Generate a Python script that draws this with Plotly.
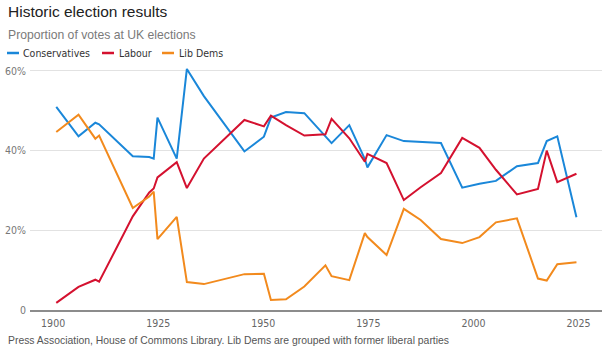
import plotly.graph_objects as go

# General election dates and vote shares (%)
election_dates = [
    "1900-10-01", "1906-01-15", "1910-01-15", "1910-12-10", "1918-12-14",
    "1922-11-15", "1923-12-06", "1924-10-29", "1929-05-30", "1931-10-27",
    "1935-11-14", "1945-07-05", "1950-02-23", "1951-10-25", "1955-05-26",
    "1959-10-08", "1964-10-15", "1966-03-31", "1970-06-18", "1974-02-28",
    "1974-10-10", "1979-05-03", "1983-06-09", "1987-06-11", "1992-04-09",
    "1997-05-01", "2001-06-07", "2005-05-05", "2010-05-06", "2015-05-07",
    "2017-06-08", "2019-12-12", "2024-07-04",
]
conservatives = [
    51.0, 43.6, 47.0, 46.6, 38.6, 38.4, 38.0, 48.3, 38.0, 60.5,
    53.7, 39.8, 43.5, 48.3, 49.7, 49.4, 43.6, 41.9, 46.4, 37.9,
    35.8, 43.9, 42.4, 42.2, 41.9, 30.7, 31.7, 32.4, 36.1, 36.9,
    42.4, 43.6, 23.3,
]
labour = [
    1.8, 5.8, 7.6, 7.1, 23.5, 29.5, 30.5, 33.3, 37.1, 30.6,
    38.0, 47.7, 46.1, 48.8, 46.4, 43.8, 44.1, 48.0, 43.1, 37.2,
    39.2, 36.9, 27.6, 30.8, 34.4, 43.2, 40.7, 35.2, 29.0, 30.4,
    40.0, 32.1, 34.2,
]
lib_dems = [
    44.7, 49.0, 43.0, 43.8, 25.6, 28.5, 29.7, 17.8, 23.4, 7.0,
    6.5, 9.0, 9.1, 2.5, 2.7, 5.9, 11.2, 8.5, 7.5, 19.3,
    18.3, 13.8, 25.4, 22.6, 17.8, 16.8, 18.3, 22.0, 23.0, 7.9,
    7.4, 11.5, 12.0,
]

series_names = ["Conservatives", "Labour", "Lib Dems"]
series_colors = ["#1a87d9", "#d4112f", "#f28a1d"]
y_tick_vals = [0, 20, 40, 60]
y_tick_text = ["0", "20%", "40%", "60%"]

W, H = 602, 348
L, R, T, B = 30, 0, 63, 38
PW, PH = W - L - R, H - T - B


def px(x):
    return (x - L) / PW


def py(y):
    return (H - B - y) / PH


NARROW = "DejaVu Sans Condensed, Roboto, sans-serif"
SANS = "Liberation Sans, Arial, sans-serif"

fig = go.Figure()
for name, vals, col in zip(series_names, [conservatives, labour, lib_dems], series_colors):
    fig.add_trace(go.Scatter(
        x=election_dates, y=vals, name=name, mode="lines",
        line=dict(color=col, width=2), showlegend=False,
        hovertemplate="%{y:.1f}%<extra>" + name + "</extra>",
    ))

annotations = [
    dict(text="Historic election results", x=px(6), y=py(11), xanchor="left", yanchor="middle",
         font=dict(family=SANS, size=15.5, color="#222222")),
    dict(text="Proportion of votes at UK elections", x=px(6), y=py(35), xanchor="left", yanchor="middle",
         font=dict(family=SANS, size=12.2, color="#7a7a7a")),
    dict(text="Press Association, House of Commons Library. Lib Dems are grouped with former liberal parties",
         x=px(6), y=py(340), xanchor="left", yanchor="middle",
         font=dict(family=SANS, size=10.4, color="#555555")),
]
shapes = []
legend_x = [(7, 21), (102, 117), (162, 177)]
for (lx, tx), name, col in zip(legend_x, series_names, series_colors):
    shapes.append(dict(type="line", xref="paper", yref="paper",
                       x0=px(lx), x1=px(lx + 12), y0=py(53), y1=py(53),
                       line=dict(color=col, width=2.5)))
    annotations.append(dict(text=name, x=px(tx), y=py(53), xanchor="left", yanchor="middle",
                            font=dict(family=NARROW, size=10.5, color="#333333")))
for a in annotations:
    a.update(xref="paper", yref="paper", showarrow=False)

fig.update_layout(
    width=W, height=H,
    margin=dict(l=L, r=R, t=T, b=B),
    paper_bgcolor="white", plot_bgcolor="white",
    annotations=annotations, shapes=shapes,
    showlegend=False,
    xaxis=dict(
        type="date", range=["1894-07-01", "2030-08-01"],
        tick0="1900-01-01", dtick="M300", tickformat="%Y",
        showgrid=False, zeroline=False,
        showline=True, linecolor="#8c8c8c", linewidth=2,
        ticks="", ticklabelstandoff=2,
        tickfont=dict(family=NARROW, size=10.5, color="#666666"),
    ),
    yaxis=dict(
        range=[0, 62], tickvals=y_tick_vals, ticktext=y_tick_text,
        showgrid=True, gridcolor="#e2e2e2", gridwidth=1,
        zeroline=False, showline=False, ticks="",
        ticklabelstandoff=3,
        tickfont=dict(family=NARROW, size=10.5, color="#777777"),
    ),
)

fig.write_html("out.html")
